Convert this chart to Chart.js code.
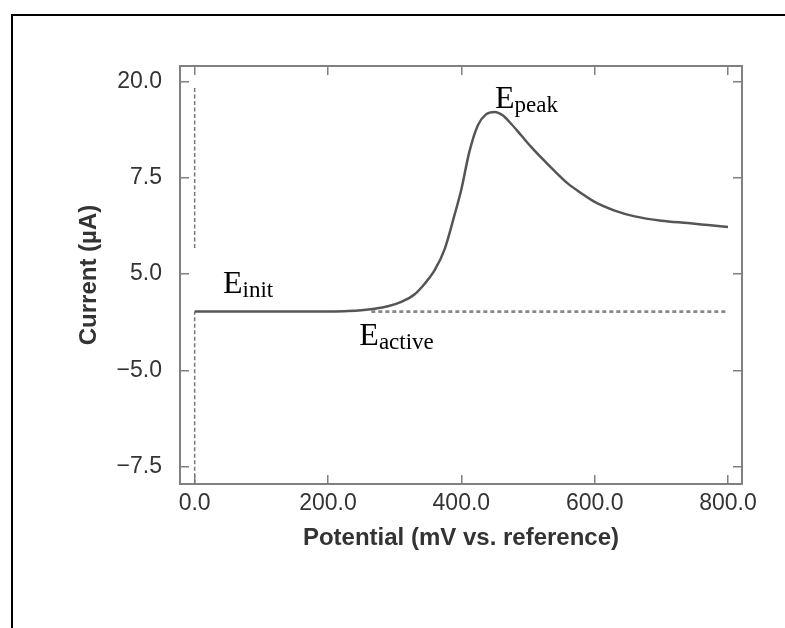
<!DOCTYPE html>
<html>
<head>
<meta charset="utf-8">
<script src="https://cdn.jsdelivr.net/npm/chart.js@4.4.0/dist/chart.umd.min.js"></script>
<style>
  html, body { margin: 0; padding: 0; background: #fff; }
  #wrap { position: relative; width: 785px; height: 628px; overflow: hidden; }
  #frame { position: absolute; left: 11px; top: 14px; width: 820px; height: 700px;
           border-left: 2px solid #000; border-top: 2px solid #000; }
  canvas { position: absolute; left: 0; top: 0; }
</style>
</head>
<body>
<div id="wrap">
  <div id="frame"></div>
  <canvas id="myChart" width="785" height="628"></canvas>
</div>
<script>
// ---------- data (x in mV, y in tick-position units: 0 = bottom tick ... 4 = top tick)
const potential = [0, 50, 100, 150, 200, 230, 250, 270, 290, 310, 330, 345, 360, 375, 390, 400,
  412, 425, 437, 450, 462, 475, 490, 505, 520, 540, 560, 580, 600, 630, 660, 700, 740, 770, 800];
const current = [1.61, 1.61, 1.61, 1.61, 1.612, 1.617, 1.625, 1.64, 1.665, 1.71, 1.79, 1.9, 2.04, 2.26, 2.62, 2.88,
  3.27, 3.55, 3.66, 3.685, 3.65, 3.56, 3.44, 3.32, 3.21, 3.07, 2.94, 2.84, 2.75, 2.66, 2.6, 2.555, 2.53, 2.51, 2.49];

const xTicks = [0, 200, 400, 600, 800];
const xTickLabels = ["0.0", "200.0", "400.0", "600.0", "800.0"];
const yTicks = [0, 1, 2, 3, 4];
const yTickLabels = ["\u22127.5", "\u22125.0", "5.0", "7.5", "20.0"];

const baselineX = [265, 800];
const baselineY = [1.61, 1.61];
const initLowY = [-0.18, 1.61];
const initHighY = [2.27, 3.935];

const marks = [
  { main: "E", sub: "init", x: 42.5, y: 1.80 },
  { main: "E", sub: "peak", x: 450.6, y: 3.725 },
  { main: "E", sub: "active", x: 247, y: 1.258 }
];

function pts(xs, ys) {
  return xs.map((x, i) => ({ x: x, y: ys[i] }));
}

//---------- annotation text
const markPlugin = {
  id: "marks",
  afterDatasetsDraw(chart) {
    const ctx = chart.ctx;
    const sx = chart.scales.x, sy = chart.scales.y;
    ctx.save();
    ctx.fillStyle = "#000";
    ctx.textBaseline = "alphabetic";
    marks.forEach((m) => {
      const px = sx.getPixelForValue(m.x);
      const py = sy.getPixelForValue(m.y);
      ctx.font = '32px "Liberation Serif"';
      ctx.fillText(m.main, px, py);
      const w = ctx.measureText(m.main).width;
      ctx.font = '23px "Liberation Serif"';
      ctx.fillText(m.sub, px + w, py + 4);
    });
    ctx.restore();
  }
};

Chart.defaults.font.family = '"Liberation Sans", Arial, sans-serif';

const gridOpts = { drawOnChartArea: false, drawTicks: true, tickLength: -9, color: "#808080", lineWidth: 1.5 };
const borderOpts = { color: "#808080", width: 2 };

function setXTicks(s) { s.ticks = xTicks.map((v) => ({ value: v })); }
function setYTicks(s) { s.ticks = yTicks.map((v) => ({ value: v })); }

const ctx = document.getElementById("myChart");
new Chart(ctx, {
  type: "line",
  data: {
    datasets: [
      {
        data: pts(potential, current),
        borderColor: "#555",
        borderWidth: 2.5,
        pointRadius: 0,
        cubicInterpolationMode: "monotone"
      },
      {
        data: pts(baselineX, baselineY),
        borderColor: "#888",
        borderWidth: 2.6,
        borderDash: [4, 3],
        pointRadius: 0
      },
      {
        data: pts([0, 0], initLowY),
        borderColor: "#777",
        borderWidth: 1.5,
        borderDash: [4, 2.5],
        pointRadius: 0
      },
      {
        data: pts([0, 0], initHighY),
        borderColor: "#777",
        borderWidth: 1.5,
        borderDash: [4, 2.5],
        pointRadius: 0
      }
    ]
  },
  options: {
    responsive: false,
    animation: false,
    layout: { padding: { left: 0, right: 43, top: 66, bottom: 64 } },
    plugins: { legend: { display: false }, tooltip: { enabled: false } },
    scales: {
      x: {
        type: "linear", position: "bottom", min: -22, max: 821,
        afterBuildTicks: setXTicks,
        afterFit: (s) => { s.height = 80; },
        ticks: { callback: (v, i) => xTickLabels[i], font: { size: 23 }, color: "#333",
                 padding: 15, autoSkip: false, maxRotation: 0 },
        grid: gridOpts, border: borderOpts,
        title: { display: true, text: "Potential (mV vs. reference)", color: "#333",
                 font: { size: 24, weight: "bold" }, padding: { top: 0, bottom: 11.6 } }
      },
      x2: {
        type: "linear", position: "top", min: -22, max: 821,
        afterBuildTicks: setXTicks,
        afterFit: (s) => { s.height = 0; },
        ticks: { display: false },
        grid: gridOpts, border: borderOpts
      },
      y: {
        type: "linear", position: "left", min: -0.182, max: 4.163,
        afterBuildTicks: setYTicks,
        afterFit: (s) => { s.width = 180; },
        ticks: { callback: (v, i) => yTickLabels[i], font: { size: 23 }, color: "#333", padding: 27 },
        grid: gridOpts, border: borderOpts,
        title: { display: true, text: "Current (\u00b5A)", color: "#333",
                 font: { size: 24, weight: "bold" }, padding: { top: 74.6, bottom: 0 } }
      },
      y2: {
        type: "linear", position: "right", min: -0.182, max: 4.163,
        afterBuildTicks: setYTicks,
        afterFit: (s) => { s.width = 0; },
        ticks: { display: false },
        grid: gridOpts, border: borderOpts
      }
    }
  },
  plugins: [markPlugin]
});
</script>
</body>
</html>
